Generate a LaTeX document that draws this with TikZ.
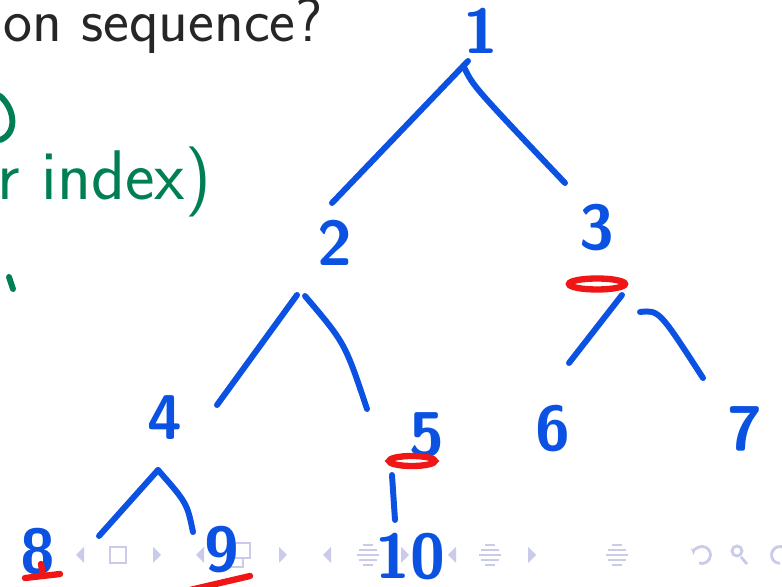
\documentclass[tikz,border=0pt]{standalone}
\usepackage{tikz}
\usetikzlibrary{positioning, calc, arrows.meta}
\definecolor{penblue}{RGB}{12,82,226}
\definecolor{penred}{RGB}{240,22,22}
\definecolor{pengreen}{RGB}{0,128,82}
\definecolor{navgray}{RGB}{202,202,234}
\begin{document}
\begin{tikzpicture}[x=0.02cm, y=-0.02cm,
    every node/.style={inner sep=0pt},
    num/.style={font=\sffamily\bfseries\fontsize{36}{38}\selectfont, text=penblue},
    heading/.style={font=\sffamily\fontsize{35}{38}\selectfont, text=black!85},
    edge/.style={penblue, line width=3.4pt, line cap=round},
    hilite/.style={penred, line width=3.6pt, line cap=round},
    ink/.style={pengreen, line width=3.4pt, line cap=round},
    navtip/.style={fill=navgray, draw=none},
    navline/.style={navgray, line width=1.6pt}
]
    \useasboundingbox (0,0) rectangle (782,587);

    % --- slide text and green notes ---
    \node[heading, anchor=base west] (title) at (3,42) {on sequence?};
    \node[font=\sffamily\fontsize{40}{42}\selectfont, text=pengreen, anchor=base west] (note) at (-3,200) {r index)};
    \draw[ink] (0,96) .. controls (16,110) and (17,134) .. (0,140);
    \draw[ink] (9,277) -- (13,289);

    % --- beamer navigation symbols ---
    \foreach \x in {80,200,327,452}
        \fill[navtip] (\x+4,547) -- (\x-4,555) -- (\x+4,563) -- cycle;
    \foreach \x in {157,283,405,532}
        \fill[navtip] (\x-4,547) -- (\x+4,555) -- (\x-4,563) -- cycle;
    \draw[navline] (110,547) rectangle (126,563);
    \draw[navline] (228,552) rectangle (243,567);
    \draw[navline, fill=white] (235,543) rectangle (250,558);
    \foreach \x in {368,490,617}
        \foreach \dy/\w in {-10/5, -5/9, 0/11, 5/9, 10/5}
            \draw[navline] (\x-\w,555+\dy) -- (\x+\w,555+\dy);
    \begin{scope}[shift={(702,555)}, x=1cm, y=1cm]
        \draw[navline, {Stealth[length=4pt]}-] (180:0.17) arc (180:-110:0.17);
    \end{scope}
    \draw[navline] (737,551) circle (0.1cm);
    \draw[navline] (741,557) -- (747,564);
    \begin{scope}[shift={(780,555)}, x=1cm, y=1cm]
        \draw[navline] (60:0.17) arc (60:270:0.17);
    \end{scope}

    % --- tree nodes ---
    \foreach \n/\px/\py in {1/481/31, 2/335/243, 3/597/228, 4/165/418, 5/427/435,
                            6/553/429, 7/745/429, 8/38/552, 9/222/550, 10/410/557}
        \node[num] (n\n) at (\px,\py) {\n};

    % --- edges (hand drawn, not touching the numbers) ---
    \draw[edge] ([shift={(-13,30)}]n1.center) -- ([shift={(-3,-40)}]n2.center);
    \draw[edge] ([shift={(-17,36)}]n1.center) .. controls ([shift={(-8,55)}]n1.center) .. ([shift={(-32,-45)}]n3.center);
    \draw[edge] ([shift={(-38,52)}]n2.center) -- ([shift={(52,-13)}]n4.center);
    \draw[edge] ([shift={(-30,53)}]n2.center) .. controls ([shift={(10,100)}]n2.center) .. ([shift={(-60,-26)}]n5.center);
    \draw[edge] ([shift={(25,67)}]n3.center) -- ([shift={(16,-66)}]n6.center);
    \draw[edge] ([shift={(43,84)}]n3.center) .. controls ([shift={(62,82)}]n3.center) .. ([shift={(-42,-51)}]n7.center);
    \draw[edge] ([shift={(-7,52)}]n4.center) -- ([shift={(61,-16)}]n8.center);
    \draw[edge] ([shift={(-7,52)}]n4.center) .. controls ([shift={(22,85)}]n4.center) .. ([shift={(-29,-18)}]n9.center);
    \draw[edge] ([shift={(-35,40)}]n5.center) -- ([shift={(-15,-37)}]n10.center);

    % --- red marks ---
    \draw[hilite] ([shift={(0,56)}]n3.center) ellipse (0.56cm and 0.11cm);
    \draw[hilite] ([shift={(-15,26)}]n5.center) ellipse (0.46cm and 0.1cm);
    \draw[hilite] ([shift={(-13,26)}]n8.center) -- ([shift={(22,22)}]n8.center);
    \draw[hilite] ([shift={(3,12)}]n8.center) -- ([shift={(5,24)}]n8.center);
    \draw[hilite] ([shift={(-32,40)}]n9.center) -- ([shift={(28,26)}]n9.center);
\end{tikzpicture}
\end{document}
